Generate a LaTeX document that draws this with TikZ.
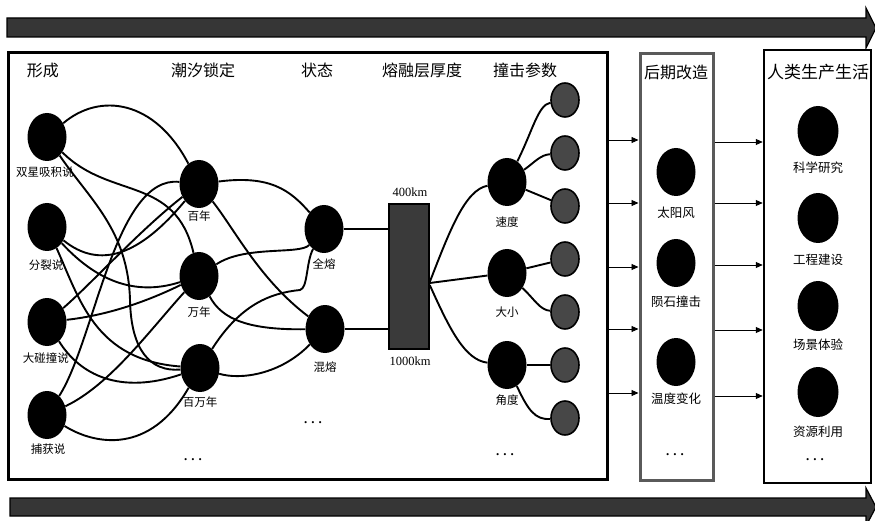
\documentclass[tikz,border=0pt]{standalone}
\usepackage{fontspec}
\setmainfont{Liberation Serif}
\newfontfamily\cjk{Noto Sans CJK SC}
\usetikzlibrary{shapes.geometric,arrows.meta}
\definecolor{barfill}{HTML}{363636}
\definecolor{gnode}{HTML}{474747}
\definecolor{midframe}{HTML}{5a5a5a}
\definecolor{rectfill}{HTML}{3a3a3a}
\begin{document}
\begin{tikzpicture}[x=1pt,y=-1pt,
  blk/.style={ellipse,fill=black,inner sep=0,minimum width=39pt,minimum height=48pt},
  bigblk/.style={ellipse,fill=black,inner sep=0,minimum width=41pt,minimum height=50pt},
  gry/.style={ellipse,fill=gnode,draw=black,line width=1.6pt,inner sep=0,minimum width=28pt,minimum height=34pt},
  lbl/.style={font=\cjk\fontsize{11.5}{12}\selectfont,inner sep=0},
  rlbl/.style={font=\cjk\fontsize{12.5}{13}\selectfont,inner sep=0},
  hdr/.style={font=\cjk\fontsize{16}{18}\selectfont,inner sep=0},
  km/.style={font=\fontsize{12.5}{13}\selectfont,inner sep=0},
  dotsnode/.style={font=\bfseries\fontsize{13}{13}\selectfont,inner sep=0},
  lnk/.style={line width=1.9pt},
  arr/.style={line width=0.9pt,-{Triangle[length=7pt,width=6pt]}},
  bigarrow/.style={fill=barfill,draw=black,line width=1.2pt,line join=miter}
]
\useasboundingbox (0,0) rectangle (875,521);

% big arrows
\draw[bigarrow] (7,18) -- (866,18) -- (866,8) -- (876,28) -- (866,48) -- (866,37) -- (7,37) -- cycle;
\draw[bigarrow] (10,498) -- (866,498) -- (866,488) -- (876,507) -- (866,526) -- (866,516) -- (10,516) -- cycle;

% boxes
\node[draw=black,line width=3pt,minimum width=599pt,minimum height=426pt,inner sep=0] (main) at (307.5,266) {};
\node[draw=midframe,line width=3pt,minimum width=73pt,minimum height=426pt,inner sep=0] (mid) at (676.5,267) {};
\node[draw=black,line width=2.5pt,minimum width=107pt,minimum height=433pt,inner sep=0] (right) at (817.5,266.5) {};

% headers
\node[hdr] (h1) at (43,70) {形成};
\node[hdr] (h2) at (203,70) {潮汐锁定};
\node[hdr] (h3) at (317,70) {状态};
\node[hdr] (h4) at (422,70) {熔融层厚度};
\node[hdr] (h5) at (525,70) {撞击参数};
\node[hdr] (h6) at (676,72) {后期改造};
\node[hdr,font=\cjk\fontsize{17}{18}\selectfont] (h7) at (818,72) {人类生产生活};

% column 1
\node[blk] (D1) at (47,137) {};
\node[blk] (D2) at (47,227) {};
\node[blk] (D3) at (47,322) {};
\node[blk] (D4) at (47,415) {};
\node[lbl] (lD1) at (45,172) {双星吸积说};
\node[lbl] (lD2) at (46,265) {分裂说};
\node[lbl] (lD3) at (46,358) {大碰撞说};
\node[lbl] (lD4) at (48,449) {捕获说};

% column 2
\node[blk] (T1) at (199,184) {};
\node[blk] (T2) at (199,276) {};
\node[blk] (T3) at (200,368) {};
\node[lbl] (lT1) at (199,216) {百年};
\node[lbl] (lT2) at (199,312) {万年};
\node[lbl] (lT3) at (200,402) {百万年};
\node[dotsnode] (dT) at (193,460) {.\hspace{4pt}.\hspace{4pt}.};

% column 3
\node[blk] (S1) at (324,229) {};
\node[blk] (S2) at (325,329) {};
\node[lbl] (lS1) at (324,264) {全熔};
\node[lbl] (lS2) at (325,367) {混熔};
\node[dotsnode] (dS) at (313,423) {.\hspace{4pt}.\hspace{4pt}.};

% column 4
\node[fill=rectfill,draw=black,line width=1.5pt,minimum width=40pt,minimum height=145pt,inner sep=0] (R) at (409,276.5) {};
\node[km] (k1) at (410,192) {400km};
\node[km] (k2) at (410,361) {1000km};

% column 5
\node[blk] (V1) at (507,182) {};
\node[blk] (V2) at (507,273) {};
\node[blk] (V3) at (507,365) {};
\node[lbl] (lV1) at (507,222) {速度};
\node[lbl] (lV2) at (507,312) {大小};
\node[lbl] (lV3) at (507,400) {角度};
\node[dotsnode] (dV) at (505,455) {.\hspace{4pt}.\hspace{4pt}.};

\foreach \i in {1,...,7}{
  \node[gry] (G\i) at (565,{100+53*(\i-1)}) {};
}

% middle box nodes
\node[blk] (M1) at (676,172) {};
\node[blk] (M2) at (676,263) {};
\node[blk] (M3) at (676,362) {};
\node[rlbl] (lM1) at (676,213) {太阳风};
\node[rlbl] (lM2) at (676,302) {陨石撞击};
\node[rlbl] (lM3) at (676,399) {温度变化};
\node[dotsnode] (dM) at (675,455) {.\hspace{4pt}.\hspace{4pt}.};

% right box nodes
\node[bigblk] (H1) at (818,131) {};
\node[bigblk] (H2) at (818,218) {};
\node[bigblk] (H3) at (818,306) {};
\node[bigblk] (H4) at (818,392) {};
\node[rlbl] (lH1) at (818,168) {科学研究};
\node[rlbl] (lH2) at (818,260) {工程建设};
\node[rlbl] (lH3) at (818,345) {场景体验};
\node[rlbl] (lH4) at (818,432) {资源利用};
\node[dotsnode] (dH) at (815,460) {.\hspace{4pt}.\hspace{4pt}.};

% edges column 1 -> column 2
\draw[lnk] (D1) .. controls (100,92) and (155,100) .. (T1);
\draw[lnk] (D1) .. controls (110,200) and (175,175) .. (T2);
\draw[lnk] (D1) .. controls (90,200) and (128,230) .. (130,300) .. controls (131,350) and (150,372) .. (T3);
\draw[lnk] (D2) .. controls (100,270) and (140,255) .. (T1);
\draw[lnk] (D2) .. controls (100,285) and (140,295) .. (T2);
\draw[lnk] (D2) .. controls (80,300) and (95,360) .. (T3);
\draw[lnk] (D3) .. controls (90,285) and (140,230) .. (T1);
\draw[lnk] (D3) .. controls (110,315) and (150,300) .. (T2);
\draw[lnk] (D3) .. controls (80,375) and (120,395) .. (T3);
\draw[lnk] (D4) .. controls (95,340) and (115,175) .. (T1);
\draw[lnk] (D4) .. controls (110,385) and (150,330) .. (T2);
\draw[lnk] (D4) .. controls (95,445) and (150,455) .. (T3);

% column 2 -> column 3
\draw[lnk] (T1) .. controls (270,175) and (290,190) .. (S1);
\draw[lnk] (T1) .. controls (235,230) and (260,280) .. (S2);
\draw[lnk] (T2) .. controls (245,245) and (300,255) .. (S1);
\draw[lnk] (T2) .. controls (222,320) and (250,330) .. (S2);
\draw[lnk] (T3) .. controls (240,305) and (270,293) .. (300,290) .. controls (308,288) and (306,262) .. (S1);
\draw[lnk] (T3) .. controls (240,380) and (280,375) .. (S2);

% column 3 -> rect
\draw[lnk] (S1.east) -- (R.west |- S1.east);
\draw[lnk] (S2.east) -- (R.west |- S2.east);

% rect -> column 5
\draw[lnk] (R.east |- 0,282) .. controls (450,230) and (465,190) .. (V1);
\draw[lnk] (R.east |- 0,283) -- (V2);
\draw[lnk] (R.east |- 0,285) .. controls (450,330) and (465,360) .. (V3);

% column 5 -> grey nodes
\draw[lnk] (V1) .. controls (533,130) and (538,105) .. (G1);
\draw[lnk] (V1) .. controls (535,162) and (540,155) .. (G2);
\draw[lnk] (V1) -- (G3);
\draw[lnk] (V2) -- (G4);
\draw[lnk] (V2) .. controls (535,300) and (540,310) .. (G5);
\draw[lnk] (V3) -- (G6);
\draw[lnk] (V3) .. controls (528,410) and (535,420) .. (G7);

% box-to-box arrows
\foreach \y in {140,203,267,329,393}{
  \draw[arr] (main.east |- 0,\y) -- (mid.west |- 0,\y);
}
\foreach \y in {142,203,265,330,396}{
  \draw[arr] (mid.east |- 0,\y) -- (right.west |- 0,\y);
}
\end{tikzpicture}
\end{document}
